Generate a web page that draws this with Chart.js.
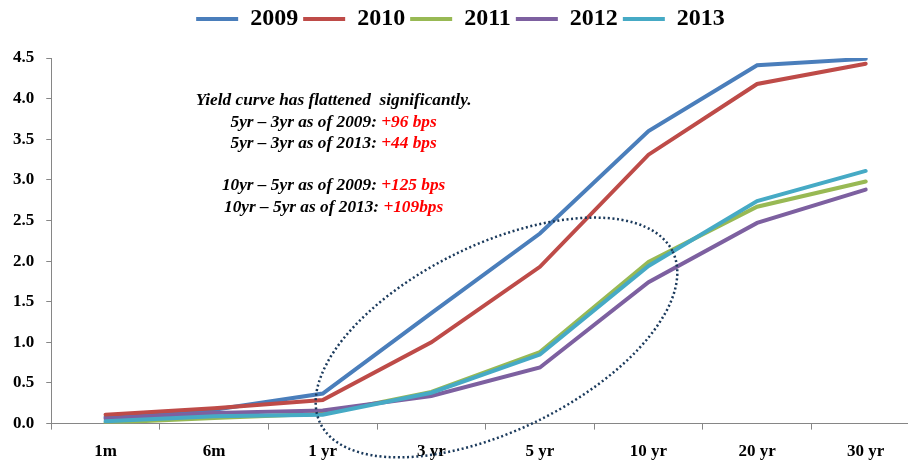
<!DOCTYPE html>
<html>
<head>
<meta charset="utf-8">
<script src="https://cdn.jsdelivr.net/npm/chart.js@4.4.0/dist/chart.umd.min.js"></script>
<style>
  html, body { margin: 0; padding: 0; background: #fff; overflow: hidden; }
  #wrap { width: 920px; height: 464px; }
</style>
</head>
<body>
<div id="wrap"><canvas id="line-chart"></canvas></div>
<script>
// maturities on the x axis
var maturities = ["1m", "6m", "1 yr", "3 yr", "5 yr", "10 yr", "20 yr", "30 yr"];

// yields per year
var y2009 = [0.08, 0.17, 0.37, 1.36, 2.34, 3.60, 4.41, 4.49];
var y2010 = [0.11, 0.19, 0.29, 1.00, 1.93, 3.31, 4.18, 4.43];
var y2011 = [0.01, 0.07, 0.12, 0.39, 0.88, 1.99, 2.67, 2.98];
var y2012 = [0.06, 0.13, 0.16, 0.34, 0.69, 1.74, 2.47, 2.88];
var y2013 = [0.03, 0.09, 0.11, 0.38, 0.85, 1.94, 2.74, 3.11];

var yTicks = [0, 0.5, 1.0, 1.5, 2.0, 2.5, 3.0, 3.5, 4.0, 4.5];

var noteLines = [
    ["Yield curve has flattened  significantly.", ""],
    ["5yr \u2013 3yr as of 2009: ", "+96 bps"],
    ["5yr \u2013 3yr as of 2013: ", "+44 bps"],
    ["", ""],
    ["10yr \u2013 5yr as of 2009: ", "+125 bps"],
    ["10yr \u2013 5yr as of 2013: ", "+109bps"]
];

var serif = "'Liberation Serif', 'Times New Roman', serif";

// give the legend some extra room below it
var legendGap = {
    id: 'legendGap',
    beforeInit(chart){
        var fit = chart.legend.fit;
        chart.legend.fit = function(){
            fit.call(this);
            this.height += 17;
        };
    }
};

// text box + dotted ellipse drawn on top of the lines
var notes = {
    id: 'notes',
    afterDatasetsDraw(chart){
        var ctx = chart.ctx;
        var xs = chart.scales.x, ys = chart.scales.y;
        ctx.save();

        // dotted ellipse around 1yr..10yr
        var cx = xs.getPixelForValue(3.6);
        var cy = ys.getPixelForValue(1.06);
        ctx.beginPath();
        ctx.ellipse(cx, cy, 196, 93, -26 * Math.PI / 180, 0, Math.PI * 2);
        ctx.strokeStyle = '#1b3a5c';
        ctx.lineWidth = 2.5;
        ctx.setLineDash([2, 2.6]);
        ctx.stroke();
        ctx.setLineDash([]);

        // annotation
        ctx.font = "bold italic 16px " + serif;
        ctx.textBaseline = 'middle';
        var tx = xs.getPixelForValue(2.1);
        var ty = ys.getPixelForValue(3.97);
        var sx = 1.08;
        for(var i = 0; i < noteLines.length; i++){
            var a = noteLines[i][0], b = noteLines[i][1];
            var wa = ctx.measureText(a).width, wb = ctx.measureText(b).width;
            var yy = ty + i * 21.3;
            ctx.save();
            ctx.translate(tx, yy);
            ctx.scale(sx, 1);
            var x0 = -(wa + wb) / 2;
            ctx.textAlign = 'left';
            ctx.fillStyle = '#000';
            ctx.fillText(a, x0, 0);
            ctx.fillStyle = '#ff0000';
            ctx.fillText(b, x0 + wa, 0);
            ctx.restore();
        }
        ctx.restore();
    }
};

new Chart(document.getElementById("line-chart"),{
    type: 'line',
    data:{
        labels: maturities,
        datasets: [
            { label: "2009", data: y2009, borderColor: '#4a7ebb', order: 5 },
            { label: "2010", data: y2010, borderColor: '#be4b48', order: 4 },
            { label: "2011", data: y2011, borderColor: '#98b954', order: 3 },
            { label: "2012", data: y2012, borderColor: '#7d60a0', order: 2 },
            { label: "2013", data: y2013, borderColor: '#46aac5', order: 1 }
        ]
    },
    options: {
        responsive: true,
        maintainAspectRatio: false,
        animation: false,
        datasets: {
            line: { borderWidth: 4, pointRadius: 0, tension: 0, fill: false, borderCapStyle: 'round' }
        },
        layout: { padding: { left: 1, top: 2, right: 0, bottom: -10 } },
        scales: {
            x: {
                offset: true,
                grid: { offset: true, drawOnChartArea: false, tickLength: 6, color: '#868686' },
                border: { color: '#868686', width: 1 },
                ticks: { color: '#000', padding: 12, maxRotation: 0, font: { family: serif, size: 17, weight: 'bold' } }
            },
            y: {
                min: 0,
                max: 4.5,
                afterBuildTicks: function(scale){ scale.ticks = yTicks.map(function(v){ return { value: v }; }); },
                grid: { drawOnChartArea: false, tickLength: 5, color: '#868686' },
                border: { color: '#868686', width: 1 },
                ticks: {
                    color: '#000',
                    padding: 12,
                    font: { family: serif, size: 17, weight: 'bold' },
                    callback: function(v){ return Number(v).toFixed(1); }
                }
            }
        },
        plugins:{
            tooltip: { enabled: false },
            legend: {
                position: 'top',
                labels: {
                    usePointStyle: true,
                    pointStyle: 'line',
                    pointStyleWidth: 42,
                    boxHeight: 4,
                    padding: 5,
                    color: '#000',
                    font: { family: serif, size: 24, weight: 'bold', lineHeight: 1 },
                    sort: function(a, b){ return a.datasetIndex - b.datasetIndex; }
                }
            }
        }
    },
    plugins: [legendGap, notes]
});
</script>
</body>
</html>
